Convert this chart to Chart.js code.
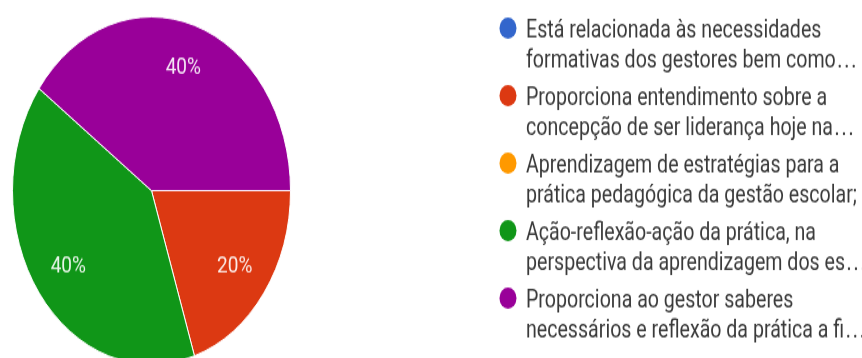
<!DOCTYPE html>
<html>
<head>
<meta charset="utf-8">
<script src="https://cdn.jsdelivr.net/npm/chart.js@4/dist/chart.umd.min.js"></script>
<style>
    html, body { margin: 0; padding: 0; background: #fff; overflow: hidden; width: 862px; height: 358px; }
    #frame { position: relative; width: 862px; height: 358px; overflow: hidden; }
    #wrap { position: absolute; left: 0; top: 0; width: 862px; height: 300px; transform: scaleY(1.25); transform-origin: 0 0; }
</style>
</head>
<body>
<div id="frame"><div id="wrap"><canvas id="graphRespostas" width="862" height="300"></canvas></div></div>
<script>
// respostas (%)
var categorias = [
    ['Está relacionada às necessidades', 'formativas dos gestores bem como...'],
    ['Proporciona entendimento sobre a', 'concepção de ser liderança hoje na...'],
    ['Aprendizagem de estratégias para a', 'prática pedagógica da gestão escolar;'],
    ['Ação-reflexão-ação da prática, na', 'perspectiva da aprendizagem dos es...'],
    ['Proporciona ao gestor saberes', 'necessários e reflexão da prática a fi...']
];
var percentuais = [0, 20, 0, 40, 40];
var cores = ['#3366cc', '#dc3912', '#ff9900', '#109618', '#990099'];

// texto das porcentagens dentro das fatias
var rotulosFatias = {
    id: 'rotulosFatias',
    afterDatasetsDraw: function (chart) {
        var ctx = chart.ctx;
        var meta = chart.getDatasetMeta(0);
        ctx.save();
        ctx.font = '19px Roboto';
        ctx.fillStyle = 'rgba(255,255,255,0.9)';
        ctx.textAlign = 'center';
        ctx.textBaseline = 'middle';
        meta.data.forEach(function (arc, i) {
            var v = chart.data.datasets[0].data[i];
            if (!v) return;
            var p = arc.getProps(['x', 'y', 'startAngle', 'endAngle', 'outerRadius'], true);
            var meio = (p.startAngle + p.endAngle) / 2;
            var r = p.outerRadius * 0.74;
            ctx.fillText(v + '%', p.x + Math.cos(meio) * r, p.y + Math.sin(meio) * r);
        });
        ctx.restore();
    }
};

// escreve a linha; reticências finais com pontos mais espaçados
function linhaLegenda(ctx, t, x, y) {
    if (t.slice(-3) !== '...') {
        ctx.fillText(t, x, y);
        return;
    }
    var corpo = t.slice(0, -3);
    ctx.fillText(corpo, x, y);
    var px = x + ctx.measureText(corpo).width + 1.5;
    for (var k = 0; k < 3; k++) {
        ctx.fillText('.', px + k * 7, y);
    }
}

// legenda à direita, duas linhas por item
var legendaLateral = {
    id: 'legendaLateral',
    afterDraw: function (chart) {
        var ctx = chart.ctx;
        ctx.save();
        ctx.font = '19.6px Roboto';
        ctx.textBaseline = 'alphabetic';
        chart.data.labels.forEach(function (linhas, i) {
            var y = 22.4 + 54 * i;
            ctx.fillStyle = cores[i];
            ctx.beginPath();
            ctx.arc(508, y, 8.5, 0, Math.PI * 2);
            ctx.fill();
            ctx.fillStyle = '#3a3a3a';
            linhas.forEach(function (t, j) {
                linhaLegenda(ctx, t, 526, y + 7.2 + j * 24.8);
            });
        });
        ctx.restore();
    }
};

var graphRespostas = document.getElementById('graphRespostas').getContext('2d');
new Chart(graphRespostas, {
    type: 'pie',
    data: {
        labels: categorias,
        datasets: [
            {
                data: percentuais,
                backgroundColor: cores,
                borderColor: '#ffffff',
                borderWidth: 1
            }
        ]
    },
    options: {
        responsive: false,
        animation: false,
        rotation: 90,
        layout: {
            padding: {
                left: 12,
                right: 571,
                top: 13,
                bottom: 8
            }
        },
        plugins: {
            legend: { display: false },
            tooltip: { enabled: false }
        }
    },
    plugins: [rotulosFatias, legendaLateral]
});
</script>
</body>
</html>
